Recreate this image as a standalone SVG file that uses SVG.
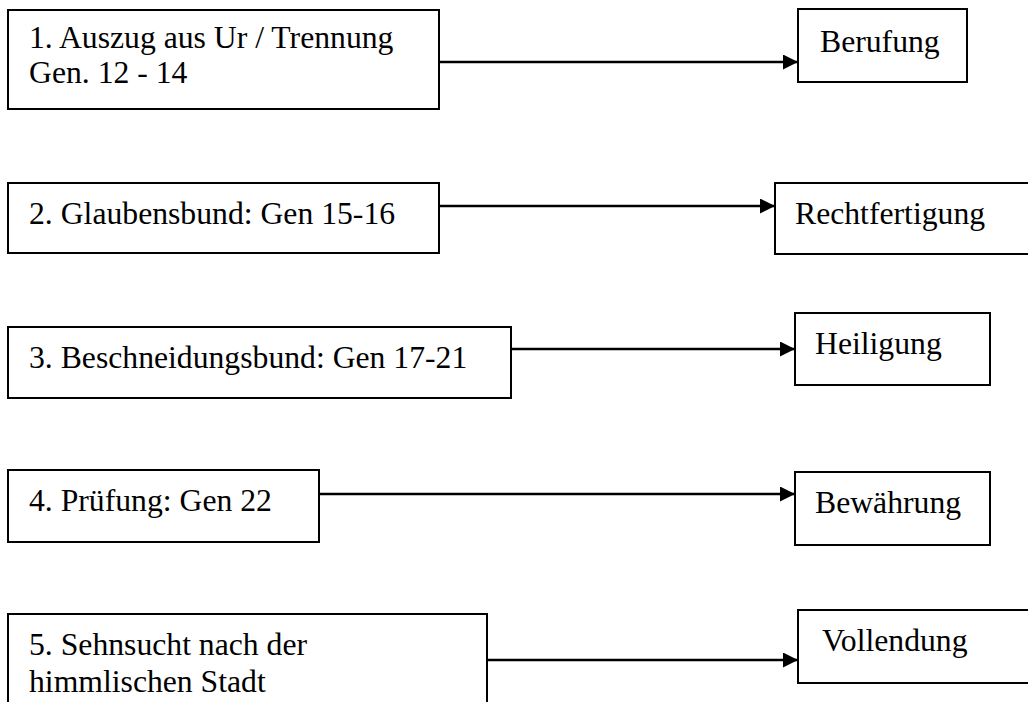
<svg xmlns="http://www.w3.org/2000/svg" width="1028" height="702" viewBox="0 0 1028 702">
  <defs>
    <marker id="arrow" markerUnits="userSpaceOnUse" markerWidth="16" markerHeight="16" refX="15" refY="7.5" orient="auto">
      <path d="M0,0 L15,7.5 L0,15 Z" fill="#000"/>
    </marker>
    <style>
      .box { fill: #fff; stroke: #000; stroke-width: 2; }
      .lbl { font-family: "Liberation Serif", "Times New Roman", serif; font-size: 31.7px; fill: #000; }
      .conn { stroke: #000; stroke-width: 2.6; fill: none; marker-end: url(#arrow); }
    </style>
  </defs>
  <rect x="0" y="0" width="1028" height="702" fill="#fff"/>

  <g id="n1">
    <rect class="box" x="8" y="10" width="431" height="99"/>
    <text class="lbl" x="29" y="48">1. Auszug aus Ur / Trennung</text>
    <text class="lbl" x="29" y="83">Gen. 12 - 14</text>
  </g>
  <g id="r1">
    <rect class="box" x="798" y="9" width="169" height="73"/>
    <text class="lbl" x="820" y="52">Berufung</text>
  </g>

  <g id="n2">
    <rect class="box" x="8" y="183" width="431" height="70"/>
    <text class="lbl" x="29" y="224">2. Glaubensbund: Gen 15-16</text>
  </g>
  <g id="r2">
    <rect class="box" x="775" y="183" width="260" height="71"/>
    <text class="lbl" x="795" y="224">Rechtfertigung</text>
  </g>

  <g id="n3">
    <rect class="box" x="8" y="327" width="503" height="71"/>
    <text class="lbl" x="29" y="368">3. Beschneidungsbund: Gen 17-21</text>
  </g>
  <g id="r3">
    <rect class="box" x="795" y="313" width="195" height="72"/>
    <text class="lbl" x="815" y="354">Heiligung</text>
  </g>

  <g id="n4">
    <rect class="box" x="8" y="470" width="311" height="72"/>
    <text class="lbl" x="29" y="511">4. Prüfung: Gen 22</text>
  </g>
  <g id="r4">
    <rect class="box" x="795" y="472" width="195" height="73"/>
    <text class="lbl" x="815" y="513">Bewährung</text>
  </g>

  <g id="n5">
    <rect class="box" x="8" y="614" width="479" height="100"/>
    <text class="lbl" x="29" y="655">5. Sehnsucht nach der</text>
    <text class="lbl" x="29" y="692">himmlischen Stadt</text>
  </g>
  <g id="r5">
    <rect class="box" x="798" y="610" width="240" height="73"/>
    <text class="lbl" x="822" y="651">Vollendung</text>
  </g>

  <g id="connectors">
    <line class="conn" x1="439" y1="62" x2="798" y2="62"/>
    <line class="conn" x1="439" y1="206" x2="775" y2="206"/>
    <line class="conn" x1="511" y1="349" x2="795" y2="349"/>
    <line class="conn" x1="319" y1="494" x2="795" y2="494"/>
    <line class="conn" x1="487" y1="660" x2="798" y2="660"/>
  </g>
</svg>
